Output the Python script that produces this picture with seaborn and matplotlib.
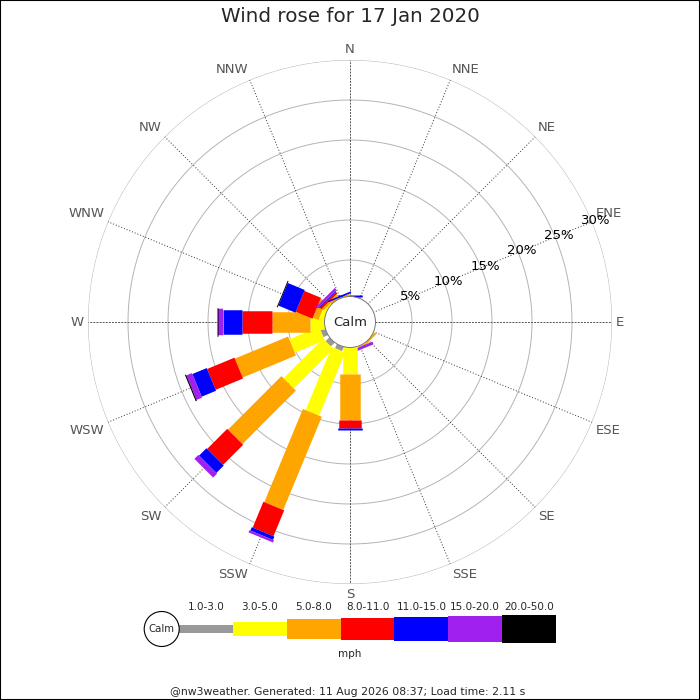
import numpy as np
import matplotlib
matplotlib.use("Agg")
import matplotlib.pyplot as plt
from matplotlib.patches import Circle, Rectangle
import seaborn as sns

sns.set_style("white")
plt.rcParams['font.family'] = ['DejaVu Sans']

# ---------------- data ----------------
title = "Wind rose for 17 Jan 2020"
directions = ["N", "NNE", "NE", "ENE", "E", "ESE", "SE", "SSE",
              "S", "SSW", "SW", "WSW", "W", "WNW", "NW", "NNW"]
speed_ranges = ["1.0-3.0", "3.0-5.0", "5.0-8.0", "8.0-11.0",
                "11.0-15.0", "15.0-20.0", "20.0-50.0"]
range_colors = ["#999999", "#ffff00", "#ffa500", "#ff0000",
                "#0000ff", "#a020f0", "#000000"]
# percentage of time per direction for each speed range (mph)
pct_1_3   = [0, 0, 0, 0, 0, 0, 0, 0, 0, 1.0, 1.1, 1.05, 0, 0, 0, 0]
pct_3_5   = [0.25, 0, 0, 0, 0, 0, 0.35, 0.5, 3.75, 8.55, 7.0, 4.05, 2.25, 1.0, 0.6, 0.2]
pct_5_8   = [0.1, 0, 0, 0, 0, 0, 0.3, 0.1, 5.75, 12.6, 9.45, 7.2, 4.8, 0.75, 0.3, 0.35]
pct_8_11  = [0.05, 0, 0, 0, 0, 0, 0, 0, 1.0, 3.5, 3.55, 3.7, 3.75, 2.25, 0.3, 0]
pct_11_15 = [0.25, 0, 0, 0, 0, 0, 0, 0, 0.3, 0.45, 1.3, 1.95, 2.3, 2.3, 0.1, 0.2]
pct_15_20 = [0, 0, 0, 0, 0, 0, 0, 0.35, 0, 0.3, 0.7, 0.75, 0.7, 0, 0.3, 0]
pct_20_50 = [0, 0, 0, 0, 0, 0, 0, 0, 0, 0, 0, 0.15, 0.1, 0.12, 0, 0]
ring_values = [5, 10, 15, 20, 25, 30]
ring_labels = ["5%", "10%", "15%", "20%", "25%", "30%"]
units = "mph"
footer = "@nw3weather. Generated: 11 Aug 2026 08:37; Load time: 2.11 s"

series = [pct_1_3, pct_3_5, pct_5_8, pct_8_11, pct_11_15, pct_15_20, pct_20_50]

# ---------------- style ----------------
W = H = 700
leg_px_widths = [7.5, 14.5, 20.5, 22.5, 24.5, 26.5, 28.5]  # leg thickness in px
PT = 72.0 / 100.0

fig = plt.figure(figsize=(7, 7), dpi=100)
fig.patch.set_facecolor("white")

cx, cy, R = 350, 322, 262
ax = fig.add_axes([(cx - R) / W, (H - cy - R) / H, 2 * R / W, 2 * R / H],
                  projection="polar")
ax.set_theta_zero_location("N")
ax.set_theta_direction(-1)
rmax = ring_values[-1]
ax.set_rlim(0, rmax)
ax.set_rorigin(-2.75)
ax.grid(False)
ax.set_xticks([])
ax.set_yticks([])
for sp in ax.spines.values():
    sp.set_visible(False)
ax.set_facecolor("white")

calm_r = 0.375
full = np.linspace(0, 2 * np.pi, 721)

# rings
for rv in ring_values:
    ax.plot(full, np.full_like(full, rv), color="#b4b4b4", lw=0.7, zorder=1)

# spokes
for i, d in enumerate(directions):
    th = np.deg2rad(22.5 * i)
    if i % 4 == 0:
        ls = (0, (2.0, 1.2))
        col = "#555555"
    else:
        ls = (0, (1.0, 2.0))
        col = "#333333"
    ax.plot([th, th], [calm_r, rmax], color=col, lw=0.7, ls=ls, zorder=1)

# legs
for i, d in enumerate(directions):
    th = np.deg2rad(22.5 * i)
    cum = 0.0
    for j, s in enumerate(series):
        v = s[i]
        if v > 0:
            ax.plot([th, th], [cum, cum + v], color=range_colors[j],
                    lw=leg_px_widths[j] * PT, solid_capstyle="butt", zorder=3)
            cum += v

# calm circle
ax.add_patch(Circle((0.5, 0.5), 25.5 / (2 * R), transform=ax.transAxes,
                    facecolor="white", edgecolor="#777777", lw=0.7,
                    zorder=5, clip_on=False))
ax.text(0.5, 0.5, "Calm", transform=ax.transAxes, ha="center", va="center",
        fontsize=9.5, zorder=6)

# ring labels along ENE
th_lab = np.deg2rad(67.5)
for rv, lab in zip(ring_values, ring_labels):
    ax.text(th_lab, rv + 0.5, lab, ha="center", va="center",
            fontsize=9.5, color="black", zorder=6)

# compass labels
r_lab = 30.5
for i, d in enumerate(directions):
    a = np.deg2rad(22.5 * i)
    s, c = np.sin(a), np.cos(a)
    ha = "left" if s > 0.01 else ("right" if s < -0.01 else "center")
    va = "bottom" if c > 0.01 else ("top" if c < -0.01 else "center")
    ax.text(a, r_lab, d, ha=ha, va=va, fontsize=9.5, color="#555555")

# title
fig.text(0.5, 1 - 17 / H, title, ha="center", va="center", fontsize=14.3)

# legend strip
lx0, lx1, lyc = 179, 556, 629
lax = fig.add_axes([lx0 / W, (H - lyc - 20) / H, (lx1 - lx0) / W, 40 / H])
lax.set_xlim(0, len(speed_ranges))
lax.set_ylim(-20, 20)
lax.axis("off")
xs = np.arange(len(speed_ranges))
hs = np.array(leg_px_widths)
lax.bar(xs, hs, bottom=-hs / 2, width=1, align="edge",
        color=range_colors, linewidth=0)
for x, lab in zip(xs, speed_ranges):
    lax.text(x + 0.5, 21.5, lab, ha="center", va="center", fontsize=7.5,
             clip_on=False)

fig.add_artist(Circle((161.7 / W, (H - lyc) / H), 17.5 / W,
                      transform=fig.transFigure, facecolor="white",
                      edgecolor="black", lw=0.8))
fig.text(161.7 / W, (H - lyc) / H, "Calm", ha="center", va="center", fontsize=7.3)
fig.text(350 / W, 1 - 654 / H, units, ha="center", va="center", fontsize=7.5)

# footer
fig.text(348 / W, 1 - 692 / H, footer, ha="center", va="center", fontsize=7.8)

# frame
fig.add_artist(Rectangle((0, 0), 1, 1, transform=fig.transFigure,
                         fill=False, edgecolor="black", lw=1.5))

fig.savefig("out.png", dpi=100, facecolor="white")
